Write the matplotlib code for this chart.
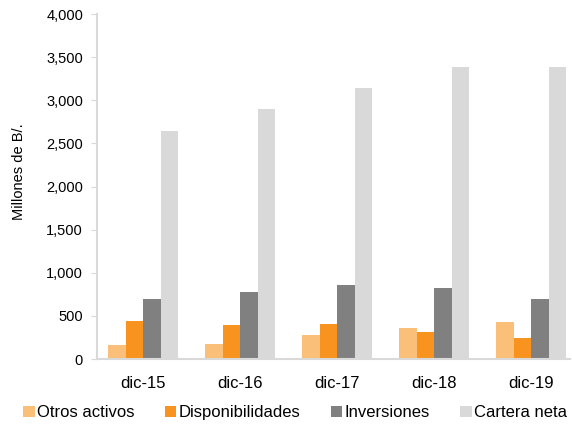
import matplotlib.pyplot as plt
import numpy as np

plt.rcParams['font.family'] = ['Liberation Sans', 'DejaVu Sans']

categories = ['dic-15', 'dic-16', 'dic-17', 'dic-18', 'dic-19']
otros_activos = [162, 180, 280, 365, 425]
disponibilidades = [440, 400, 410, 320, 250]
inversiones = [695, 777, 860, 820, 695]
cartera_neta = [2640, 2905, 3140, 3385, 3385]

series = [
    ('Otros activos', otros_activos, '#FABF78'),
    ('Disponibilidades', disponibilidades, '#F7931E'),
    ('Inversiones', inversiones, '#808080'),
    ('Cartera neta', cartera_neta, '#D9D9D9'),
]

fig = plt.figure(figsize=(5.72, 4.26), dpi=100)
ax = fig.add_axes([0.1696, 0.157, 0.827, 0.81])

x = np.arange(len(categories))
w = 0.18
for i, (name, vals, col) in enumerate(series):
    ax.bar(x + (i - 1.5) * w, vals, width=w, color=col, label=name)

ax.set_xlim(-0.475, 4.4)
ax.set_ylim(0, 4000)
ax.set_yticks(range(0, 4001, 500))
ax.set_yticklabels([f'{v:,}' for v in range(0, 4001, 500)], fontsize=10.5)
ax.set_xticks(x)
ax.set_xticklabels(categories, fontsize=12)
ax.tick_params(axis='x', length=0, pad=12)
ax.tick_params(axis='y', length=4, color='#d9d9d9', pad=6)
for s in ['top', 'right']:
    ax.spines[s].set_visible(False)
for s in ['left', 'bottom']:
    ax.spines[s].set_color('#d9d9d9')
    ax.spines[s].set_linewidth(1.5)
ax.set_ylabel('Millones de B/.', fontsize=10.5)
ax.yaxis.set_label_coords(-0.15, 0.542)

fig.legend(loc='lower center', bbox_to_anchor=(0.516, -0.022), ncol=4, frameon=False,
           fontsize=12, handlelength=0.7, handleheight=0.7, handletextpad=0.15,
           columnspacing=1.8)

fig.savefig('out.png', dpi=100)
